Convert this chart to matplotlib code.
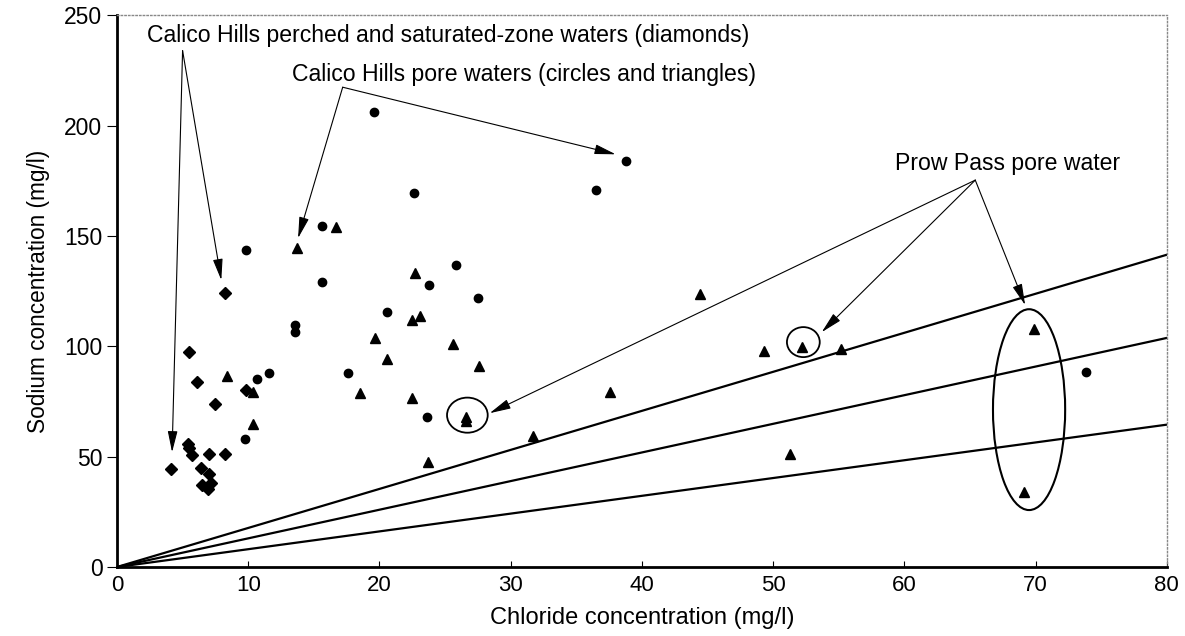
import matplotlib
matplotlib.use('Agg')
import matplotlib.pyplot as plt
from matplotlib.patches import Ellipse

plt.rcParams['font.family'] = ['Liberation Sans', 'DejaVu Sans']

# Calico Hills perched and saturated-zone waters (diamonds)
dia_cl = [5.5, 6.1, 7.5, 8.2, 9.8, 5.4, 5.5, 5.7, 7.0, 8.2, 4.1, 6.4, 7.0, 6.5, 7.2, 6.9]
dia_na = [97.5, 84, 74, 124, 80, 55.7, 53.9, 50.7, 51, 51, 44.5, 45, 42, 37, 38, 35.5]

# Calico Hills pore waters (circles)
cir_cl = [9.8, 15.6, 15.6, 13.6, 13.6, 19.6, 22.6, 25.8, 23.8, 27.5, 20.6, 17.6,
          23.6, 36.5, 38.8, 10.7, 11.6, 9.75, 73.8]
cir_na = [143.5, 154.5, 129, 109.5, 106.5, 206, 169.5, 137, 128, 122, 115.5, 88,
          68, 170.7, 184, 85, 88, 58, 88.3]

# pore waters (triangles)
tri_cl = [8.4, 10.4, 10.4, 13.7, 16.7, 22.7, 22.5, 23.1, 19.7, 25.6, 20.6, 27.6,
          18.5, 22.5, 26.6, 26.6, 23.7, 31.7, 37.6, 44.4, 49.3, 52.2, 55.2, 51.3,
          69.9, 69.1]
tri_na = [86.5, 79.5, 65, 144.5, 154, 133, 112, 113.7, 103.7, 101, 94.2, 91,
          79, 76.5, 66, 68, 47.6, 59.3, 79.3, 123.6, 97.8, 99.6, 98.7, 51.2,
          107.8, 34]

# reference lines from origin (Na at Cl = 80)
line_end_na = [141.5, 103.8, 64.5]

fig = plt.figure(figsize=(11.85, 6.36), dpi=100)
ax = fig.add_axes([0.0987, 0.1085, 0.886, 0.8675])

for y_end in line_end_na:
    ax.plot([0, 80], [0, y_end], color='black', lw=1.6, zorder=2)

ax.plot(dia_cl, dia_na, 'D', color='black', ms=6, zorder=3)
ax.plot(cir_cl, cir_na, 'o', color='black', ms=6, zorder=3)
ax.plot(tri_cl, tri_na, '^', color='black', ms=7, zorder=3)

# circles round the Prow Pass samples
ax.add_patch(Ellipse((26.7, 68.8), 3.1, 15.9, fill=False, lw=1.3, color='black'))
ax.add_patch(Ellipse((52.3, 101.9), 2.5, 13.6, fill=False, lw=1.3, color='black'))
ax.add_patch(Ellipse((69.5, 71.3), 5.5, 91, fill=False, lw=1.5, color='black'))

arrow = dict(arrowstyle='-|>,head_length=1.3,head_width=0.3', color='black', lw=0.8,
             shrinkA=0, shrinkB=0)
fs = 16.6

ax.text(2.3, 241, 'Calico Hills perched and saturated-zone waters (diamonds)',
        fontsize=fs, va='center', ha='left')
for tip in [(4.2, 52), (7.95, 130)]:
    ax.annotate('', xy=tip, xytext=(5.0, 234), arrowprops=arrow)

ax.text(13.3, 223, 'Calico Hills pore waters (circles and triangles)',
        fontsize=fs, va='center', ha='left')
for tip in [(38.0, 187), (13.8, 149)]:
    ax.annotate('', xy=tip, xytext=(17.2, 217.4), arrowprops=arrow)

ax.text(59.3, 183, 'Prow Pass pore water', fontsize=fs, va='center', ha='left')
for tip in [(28.4, 69.7), (53.7, 106.4), (69.2, 118.7)]:
    ax.annotate('', xy=tip, xytext=(65.4, 175.3), arrowprops=arrow)

ax.set_xlim(0, 80)
ax.set_ylim(0, 250)
ax.set_xticks(range(0, 81, 10))
ax.set_yticks(range(0, 251, 50))
ax.tick_params(axis='x', direction='in', length=4, labelsize=16, pad=6)
ax.tick_params(axis='y', direction='out', length=7, labelsize=16.5)

ax.spines['left'].set_linewidth(2)
ax.spines['bottom'].set_linewidth(2)
for s in ['top', 'right']:
    ax.spines[s].set_linestyle(':')
    ax.spines[s].set_color('#888888')
    ax.spines[s].set_linewidth(1)

ax.set_xlabel('Chloride concentration (mg/l)', fontsize=17, labelpad=8)
ax.set_ylabel('Sodium concentration (mg/l)', fontsize=16.3, labelpad=10)

plt.savefig('out.png', dpi=100)
